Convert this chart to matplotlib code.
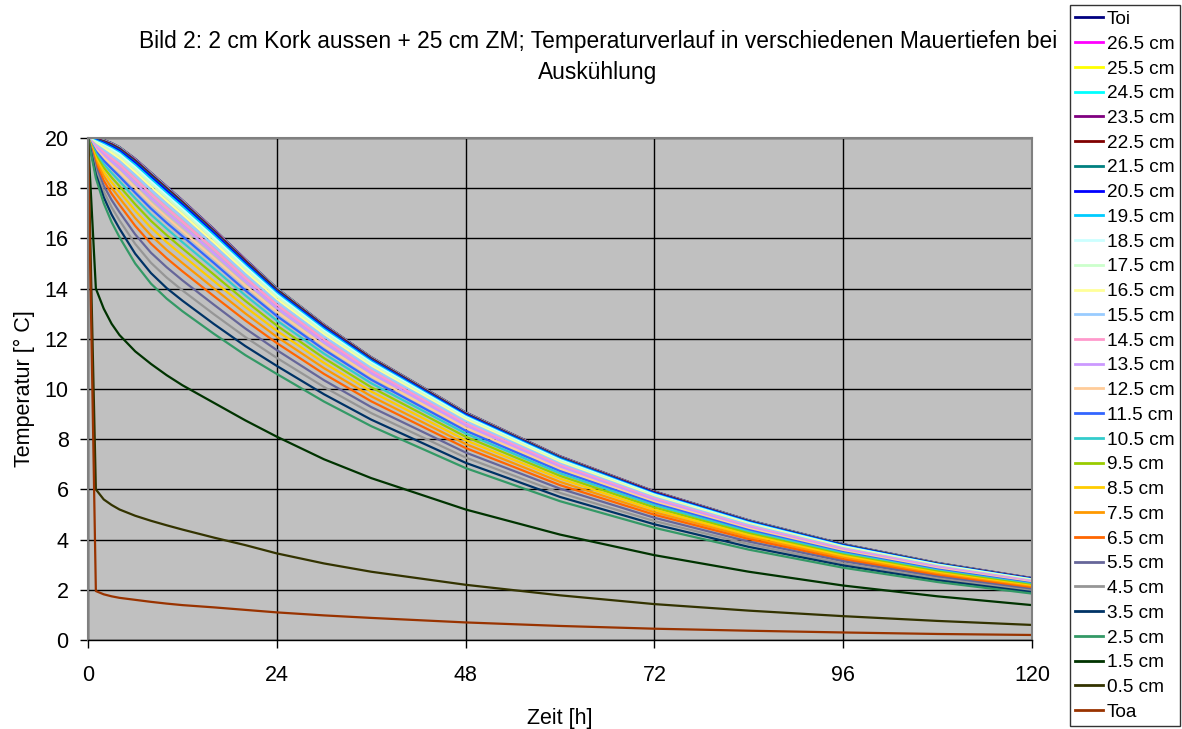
import matplotlib
matplotlib.use("Agg")
import matplotlib.pyplot as plt

plt.rcParams['font.family'] = ['Liberation Sans', 'DejaVu Sans']

# time points [h]
hours = [0, 1, 2, 3, 4, 6, 8, 10, 12, 16, 20, 24, 30, 36, 48, 60, 72, 84, 96, 108, 120]

# temperatures [°C], one list per depth
t_toi = [20, 20.0, 19.92, 19.80, 19.64, 19.17, 18.62, 18.07, 17.52, 16.37, 15.17, 14.02, 12.57, 11.27, 9.07, 7.32, 5.92, 4.77, 3.82, 3.07, 2.47]
t_265 = [20, 19.98, 19.90, 19.78, 19.62, 19.15, 18.60, 18.05, 17.50, 16.35, 15.15, 14.00, 12.55, 11.25, 9.05, 7.30, 5.90, 4.75, 3.80, 3.05, 2.45]
t_255 = [20, 19.98, 19.90, 19.78, 19.62, 19.14, 18.59, 18.04, 17.49, 16.34, 15.14, 14.00, 12.55, 11.25, 9.05, 7.30, 5.90, 4.75, 3.80, 3.05, 2.45]
t_245 = [20, 19.97, 19.89, 19.77, 19.61, 19.13, 18.58, 18.03, 17.48, 16.33, 15.13, 13.99, 12.54, 11.24, 9.04, 7.29, 5.89, 4.75, 3.80, 3.05, 2.45]
t_235 = [20, 19.97, 19.88, 19.76, 19.59, 19.12, 18.56, 18.01, 17.46, 16.32, 15.12, 13.97, 12.53, 11.23, 9.03, 7.29, 5.89, 4.74, 3.79, 3.04, 2.45]
t_225 = [20, 19.95, 19.86, 19.73, 19.56, 19.08, 18.53, 17.98, 17.43, 16.28, 15.09, 13.95, 12.50, 11.21, 9.01, 7.27, 5.88, 4.73, 3.79, 3.04, 2.44]
t_215 = [20, 19.94, 19.84, 19.70, 19.53, 19.05, 18.49, 17.94, 17.39, 16.25, 15.05, 13.91, 12.47, 11.18, 8.99, 7.26, 5.86, 4.72, 3.78, 3.03, 2.43]
t_205 = [20, 19.92, 19.81, 19.66, 19.49, 19.00, 18.44, 17.89, 17.34, 16.20, 15.01, 13.87, 12.44, 11.15, 8.97, 7.23, 5.85, 4.71, 3.77, 3.02, 2.43]
t_195 = [20, 19.90, 19.77, 19.61, 19.43, 18.93, 18.37, 17.81, 17.27, 16.13, 14.95, 13.82, 12.39, 11.11, 8.93, 7.21, 5.82, 4.69, 3.75, 3.01, 2.42]
t_185 = [20, 19.86, 19.71, 19.55, 19.36, 18.84, 18.27, 17.72, 17.17, 16.04, 14.87, 13.75, 12.32, 11.05, 8.89, 7.17, 5.79, 4.66, 3.73, 3.00, 2.41]
t_175 = [20, 19.83, 19.66, 19.48, 19.28, 18.76, 18.18, 17.63, 17.08, 15.96, 14.79, 13.68, 12.26, 10.99, 8.84, 7.13, 5.76, 4.64, 3.71, 2.98, 2.39]
t_165 = [20, 19.79, 19.59, 19.40, 19.18, 18.64, 18.06, 17.50, 16.96, 15.84, 14.68, 13.58, 12.17, 10.91, 8.78, 7.08, 5.72, 4.61, 3.69, 2.96, 2.38]
t_155 = [20, 19.74, 19.52, 19.30, 19.08, 18.52, 17.93, 17.37, 16.83, 15.72, 14.57, 13.48, 12.09, 10.84, 8.72, 7.03, 5.68, 4.58, 3.66, 2.94, 2.36]
t_145 = [20, 19.68, 19.43, 19.19, 18.95, 18.37, 17.77, 17.21, 16.67, 15.57, 14.43, 13.36, 11.97, 10.73, 8.63, 6.97, 5.63, 4.53, 3.63, 2.91, 2.34]
t_135 = [20, 19.62, 19.33, 19.07, 18.81, 18.21, 17.61, 17.04, 16.51, 15.41, 14.29, 13.23, 11.86, 10.63, 8.55, 6.90, 5.58, 4.49, 3.59, 2.88, 2.31]
t_125 = [20, 19.55, 19.22, 18.93, 18.65, 18.02, 17.40, 16.84, 16.30, 15.22, 14.12, 13.08, 11.72, 10.51, 8.45, 6.82, 5.51, 4.44, 3.55, 2.85, 2.29]
t_115 = [20, 19.47, 19.10, 18.78, 18.47, 17.82, 17.19, 16.62, 16.09, 15.02, 13.93, 12.91, 11.57, 10.37, 8.34, 6.73, 5.44, 4.38, 3.50, 2.81, 2.26]
t_105 = [20, 19.39, 18.96, 18.61, 18.28, 17.60, 16.95, 16.39, 15.85, 14.80, 13.73, 12.73, 11.41, 10.23, 8.23, 6.64, 5.37, 4.32, 3.46, 2.77, 2.23]
t_95 = [20, 19.30, 18.82, 18.43, 18.08, 17.36, 16.70, 16.13, 15.60, 14.56, 13.51, 12.53, 11.23, 10.07, 8.10, 6.54, 5.28, 4.25, 3.40, 2.73, 2.19]
t_85 = [20, 19.20, 18.66, 18.23, 17.86, 17.10, 16.43, 15.85, 15.33, 14.30, 13.27, 12.32, 11.04, 9.90, 7.96, 6.43, 5.19, 4.18, 3.35, 2.68, 2.15]
t_75 = [20, 19.09, 18.49, 18.01, 17.61, 16.81, 16.12, 15.54, 15.02, 14.01, 13.01, 12.08, 10.83, 9.71, 7.81, 6.30, 5.09, 4.10, 3.28, 2.63, 2.11]
t_65 = [20, 18.97, 18.30, 17.78, 17.34, 16.50, 15.79, 15.21, 14.69, 13.70, 12.73, 11.83, 10.60, 9.51, 7.65, 6.17, 4.99, 4.02, 3.21, 2.58, 2.07]
t_55 = [20, 18.84, 18.10, 17.53, 17.05, 16.16, 15.43, 14.85, 14.33, 13.36, 12.41, 11.55, 10.35, 9.28, 7.47, 6.03, 4.87, 3.92, 3.14, 2.52, 2.02]
t_45 = [20, 18.70, 17.87, 17.24, 16.72, 15.78, 15.03, 14.44, 13.93, 12.98, 12.07, 11.24, 10.08, 9.04, 7.27, 5.86, 4.74, 3.82, 3.05, 2.45, 1.96]
t_35 = [20, 18.55, 17.64, 16.95, 16.39, 15.39, 14.62, 14.02, 13.52, 12.59, 11.71, 10.92, 9.79, 8.78, 7.06, 5.70, 4.61, 3.71, 2.97, 2.38, 1.91]
t_25 = [20, 18.40, 17.40, 16.65, 16.05, 15.00, 14.20, 13.60, 13.10, 12.20, 11.35, 10.60, 9.50, 8.52, 6.85, 5.53, 4.47, 3.60, 2.88, 2.31, 1.85]
t_15 = [20, 14.0, 13.2, 12.6, 12.15, 11.5, 11.0, 10.55, 10.15, 9.45, 8.75, 8.1, 7.2, 6.45, 5.2, 4.2, 3.38, 2.72, 2.17, 1.74, 1.39]
t_05 = [20, 6.0, 5.6, 5.38, 5.2, 4.95, 4.75, 4.57, 4.4, 4.08, 3.78, 3.45, 3.05, 2.72, 2.2, 1.78, 1.43, 1.17, 0.95, 0.76, 0.6]
t_toa = [20, 1.95, 1.82, 1.74, 1.68, 1.6, 1.52, 1.45, 1.39, 1.3, 1.2, 1.1, 0.98, 0.88, 0.7, 0.56, 0.45, 0.37, 0.3, 0.24, 0.2]

labels = ["Toi", "26.5 cm", "25.5 cm", "24.5 cm", "23.5 cm", "22.5 cm", "21.5 cm",
          "20.5 cm", "19.5 cm", "18.5 cm", "17.5 cm", "16.5 cm", "15.5 cm", "14.5 cm",
          "13.5 cm", "12.5 cm", "11.5 cm", "10.5 cm", "9.5 cm", "8.5 cm", "7.5 cm",
          "6.5 cm", "5.5 cm", "4.5 cm", "3.5 cm", "2.5 cm", "1.5 cm", "0.5 cm", "Toa"]
series = [t_toi, t_265, t_255, t_245, t_235, t_225, t_215, t_205, t_195, t_185,
          t_175, t_165, t_155, t_145, t_135, t_125, t_115, t_105, t_95, t_85, t_75,
          t_65, t_55, t_45, t_35, t_25, t_15, t_05, t_toa]
colors = ["#000080", "#FF00FF", "#FFFF00", "#00FFFF", "#800080", "#800000", "#008080",
          "#0000FF", "#00CCFF", "#CCFFFF", "#CCFFCC", "#FFFF99", "#99CCFF", "#FF99CC",
          "#CC99FF", "#FFCC99", "#3366FF", "#33CCCC", "#99CC00", "#FFCC00", "#FF9900",
          "#FF6600", "#666699", "#969696", "#003366", "#339966", "#003300", "#333300",
          "#993300"]

fig = plt.figure(figsize=(11.82, 7.29), dpi=100)
ax = fig.add_axes([88 / 1182, 89 / 729, 944 / 1182, 502 / 729])
ax.set_facecolor("#C0C0C0")

for vals, lab, col in zip(series, labels, colors):
    ax.plot(hours, vals, color=col, lw=1.6, label=lab)

ax.set_xlim(0, 120)
ax.set_ylim(0, 20)
ax.set_xticks(range(0, 121, 24))
ax.set_yticks(range(0, 21, 2))
ax.grid(True, color="black", lw=1)
ax.set_axisbelow(True)
ax.tick_params(labelsize=15.5, length=6, width=1, color="black")
ax.tick_params(axis="x", pad=12)
ax.tick_params(axis="y", pad=8)
for s in ax.spines.values():
    s.set_color("#808080")
    s.set_linewidth(1.5)
ax.spines["bottom"].set_color("black")
ax.spines["bottom"].set_linewidth(1)

ax.set_xlabel("Zeit [h]", fontsize=15.5, labelpad=16)
ax.set_ylabel("Temperatur [° C]", fontsize=15.5, labelpad=7)

fig.text(598 / 1182, 1 - 57 / 729,
         "Bild 2: 2 cm Kork aussen + 25 cm ZM; Temperaturverlauf in verschiedenen Mauertiefen bei\nAuskühlung",
         ha="center", va="center", fontsize=16.4, linespacing=1.45)

leg = fig.legend(loc="upper right", bbox_to_anchor=(1180 / 1182, 1 - 5 / 729),
                 fontsize=13.7, frameon=True, fancybox=False, borderaxespad=0,
                 handlelength=1.45, handletextpad=0.2, labelspacing=0.39,
                 borderpad=0.3)
leg.get_frame().set_edgecolor("black")
leg.get_frame().set_linewidth(1)
for line in leg.get_lines():
    line.set_linewidth(2)

fig.savefig("out.png", dpi=100)
